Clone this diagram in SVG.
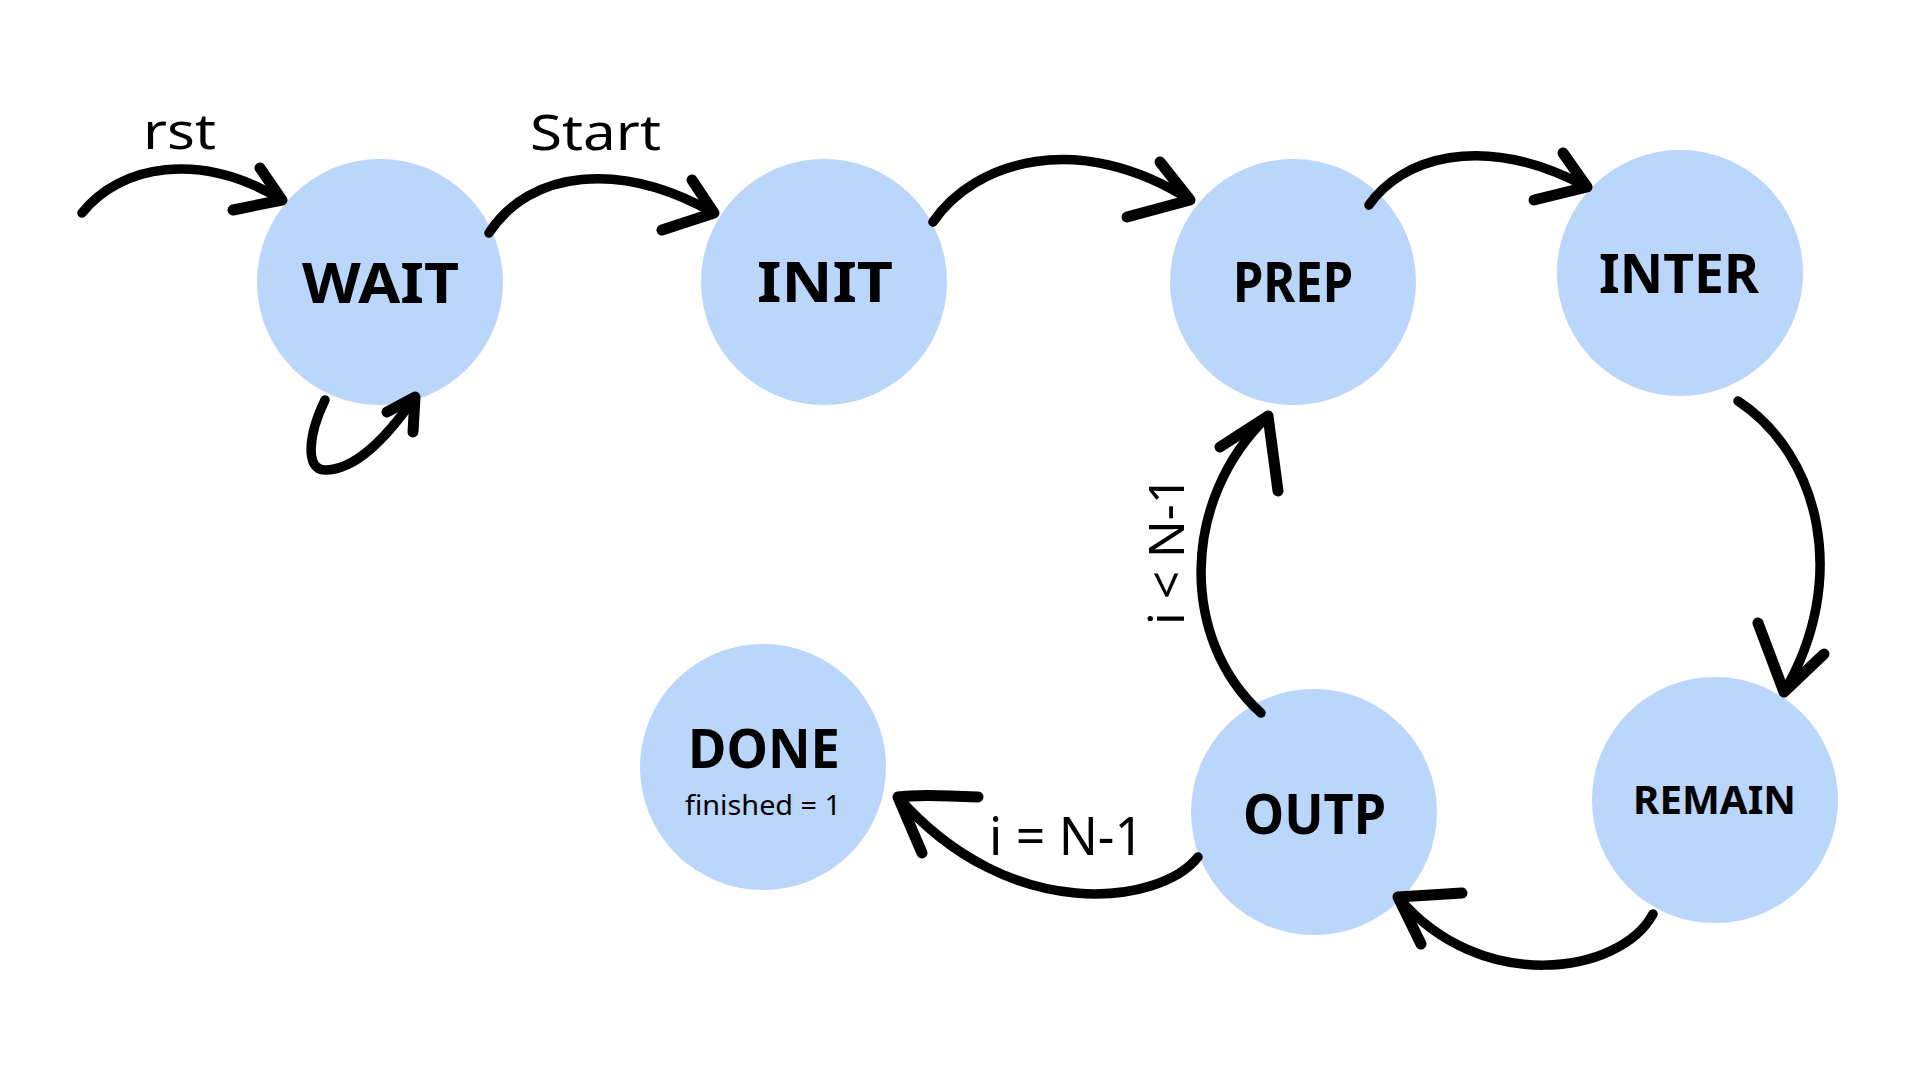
<svg xmlns="http://www.w3.org/2000/svg" width="1920" height="1080" viewBox="0 0 1920 1080">
<style>
.bg{fill:#ffffff}
.state{fill:#bad6fb}
.lbl{font-family:"Noto Sans","Liberation Sans",sans-serif;font-weight:bold;fill:#000}
.txt{font-family:"Noto Sans","Liberation Sans",sans-serif;fill:#000}
.edge{fill:none;stroke:#000;stroke-width:9.5;stroke-linecap:round;stroke-linejoin:round}
.head{fill:none;stroke:#000;stroke-width:11;stroke-linecap:round;stroke-linejoin:round}
</style>
<rect class="bg" x="0" y="0" width="1920" height="1080"/>
<g id="nodes">
<g id="WAIT"><circle class="state" cx="380" cy="282" r="123"/><text class="lbl" x="302" y="303" font-size="55" textLength="157" lengthAdjust="spacingAndGlyphs">WAIT</text></g>
<g id="INIT"><circle class="state" cx="824" cy="282" r="123"/><text class="lbl" x="757" y="302" font-size="55" textLength="136" lengthAdjust="spacingAndGlyphs">INIT</text></g>
<g id="PREP"><circle class="state" cx="1293" cy="282" r="123"/><text class="lbl" x="1233" y="302" font-size="55" textLength="120" lengthAdjust="spacingAndGlyphs">PREP</text></g>
<g id="INTER"><circle class="state" cx="1680" cy="273" r="123"/><text class="lbl" x="1599" y="293" font-size="53" textLength="160" lengthAdjust="spacingAndGlyphs">INTER</text></g>
<g id="REMAIN"><circle class="state" cx="1715" cy="800" r="123"/><text class="lbl" x="1633" y="814" font-size="39" textLength="163" lengthAdjust="spacingAndGlyphs">REMAIN</text></g>
<g id="OUTP"><circle class="state" cx="1314" cy="812" r="123"/><text class="lbl" x="1243" y="834" font-size="56" textLength="143" lengthAdjust="spacingAndGlyphs">OUTP</text></g>
<g id="DONE"><circle class="state" cx="763" cy="767" r="123"/><text class="lbl" x="688" y="768" font-size="54" textLength="152" lengthAdjust="spacingAndGlyphs">DONE</text><text class="txt" x="685" y="815" font-size="28" textLength="156" lengthAdjust="spacingAndGlyphs">finished = 1</text></g>
</g>
<g id="connectors">
<g id="e-rst"><path class="edge" d="M82,213 C120,165 200,150 282,200"/><path class="head" d="M260,168 L282,200 L233,210"/><text class="txt" x="143" y="149" font-size="50" textLength="73" lengthAdjust="spacingAndGlyphs">rst</text></g>
<g id="e-wait-wait"><path class="edge" d="M325,400 C308,435 305,470 325,470 C355,470 385,440 415,397"/><path class="head" d="M387,412 L415,397 L413,432"/></g>
<g id="e-wait-init"><path class="edge" d="M489,233 C530,170 620,160 714,213"/><path class="head" d="M692,180 L714,213 L662,230"/><text class="txt" x="530" y="150" font-size="50" textLength="131" lengthAdjust="spacingAndGlyphs">Start</text></g>
<g id="e-init-prep"><path class="edge" d="M933,222 C975,160 1080,130 1190,200"/><path class="head" d="M1160,162 L1190,200 L1127,217"/></g>
<g id="e-prep-inter"><path class="edge" d="M1369,205 C1400,160 1480,130 1587,187"/><path class="head" d="M1563,153 L1587,187 L1534,200"/></g>
<g id="e-inter-remain"><path class="edge" d="M1738,401 C1820,455 1850,580 1784,692"/><path class="head" d="M1758,623 L1784,692 L1824,654"/></g>
<g id="e-remain-outp"><path class="edge" d="M1653,914 C1620,975 1480,995 1398,897"/><path class="head" d="M1462,893 L1398,897 L1421,944"/></g>
<g id="e-outp-done"><path class="edge" d="M1198,857 C1160,905 1010,925 898,797"/><path class="head" d="M978,797 C940,795 910,795 898,797 L922,853"/><text class="txt" x="989" y="855" font-size="52" textLength="155" lengthAdjust="spacingAndGlyphs">i = N-1</text></g>
<g id="e-outp-prep"><path class="edge" d="M1261,713 C1180,640 1180,500 1268,416"/><path class="head" d="M1220,447 L1268,416 L1278,491"/><text class="txt" transform="translate(1184,625) rotate(-90)" x="0" y="0" font-size="50" textLength="149" lengthAdjust="spacingAndGlyphs">i &lt; N-1</text></g>
</g>
</svg>
